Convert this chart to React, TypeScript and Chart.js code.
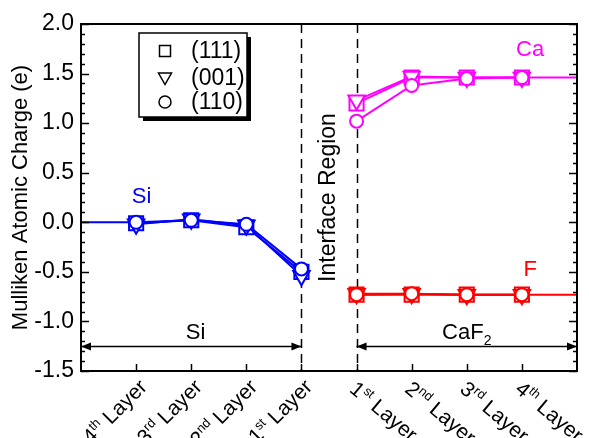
import React, { useEffect, useRef } from 'react';
import { Chart, registerables } from 'chart.js';

Chart.register(...registerables);

// ---------- data ----------
const layerPositions = [1, 2, 3, 4, 5, 6, 7, 8];
const layerNumbers = ['4', '3', '2', '1', '1', '2', '3', '4'];
const layerSuffixes = ['th', 'rd', 'nd', 'st', 'st', 'nd', 'rd', 'th'];
const layerWord = 'Layer';

const siX = [1, 2, 3, 4];
const cafX = [5, 6, 7, 8];
const facetNames = ['(111)', '(001)', '(110)'];

const si111 = [-0.01, 0.02, -0.05, -0.5];
const si001 = [-0.02, 0.03, -0.03, -0.54];
const si110 = [0.0, 0.02, -0.02, -0.47];

const ca111 = [1.2, 1.46, 1.46, 1.46];
const ca001 = [1.23, 1.47, 1.46, 1.46];
const ca110 = [1.02, 1.38, 1.45, 1.46];

const f111 = [-0.73, -0.73, -0.73, -0.73];
const f001 = [-0.72, -0.72, -0.73, -0.73];
const f110 = [-0.73, -0.72, -0.73, -0.73];

const siBulk = 0.0;
const caBulk = 1.46;
const fBulk = -0.73;

const xMin = 0;
const xMax = 9;
const yMin = -1.5;
const yMax = 2.0;
const interfaceBounds = [4, 5];
const regionArrowY = -1.25;
const regionTextY = -1.12;
const regionNames = ['Si', 'CaF'];
const interfaceText = 'Interface Region';
const yTitle = 'Mulliken Atomic Charge (e)';
const elementLabels = [
  { text: 'Si', x: 1.1, y: 0.26, color: '#0000FF' },
  { text: 'Ca', x: 8.15, y: 1.74, color: '#FF00FF' },
  { text: 'F', x: 8.15, y: -0.48, color: '#FF0000' },
];

// ---------- styles ----------
const FONT = "'Liberation Sans', Arial, Helvetica, sans-serif";
const BLUE = '#0000FF';
const MAGENTA = '#FF00FF';
const RED = '#FF0000';
const styles = [
  { pointStyle: 'rect', radius: 10, rotation: 0, order: 3 },
  { pointStyle: 'triangle', radius: 9.5, rotation: 180, order: 2 },
  { pointStyle: 'circle', radius: 6.5, rotation: 0, order: 1 },
];

function series(xs: number[], ys: number[]) {
  return xs.map((x, i) => ({ x, y: ys[i] }));
}

function makeSets(color: string, xs: number[], groups: number[][]) {
  return groups.map((ys, k) => ({
    label: facetNames[k],
    data: series(xs, ys),
    showLine: true,
    borderColor: color,
    borderWidth: 2,
    pointStyle: styles[k].pointStyle,
    pointRadius: styles[k].radius,
    pointRotation: styles[k].rotation,
    pointBorderColor: color,
    pointBackgroundColor: '#FFFFFF',
    pointBorderWidth: 2,
    order: styles[k].order,
  }));
}

function bulkSet(color: string, xs: number[], v: number) {
  return {
    label: 'bulk',
    data: xs.map((x) => ({ x, y: v })),
    showLine: true,
    borderColor: color,
    borderWidth: 2,
    pointRadius: 0,
    order: 5,
  };
}

function drawMarker(ctx: CanvasRenderingContext2D, k: number, cx: number, cy: number) {
  ctx.beginPath();
  if (k === 0) {
    ctx.rect(cx - 5.5, cy - 5.5, 11, 11);
  } else if (k === 1) {
    ctx.moveTo(cx - 6.5, cy - 5);
    ctx.lineTo(cx + 6.5, cy - 5);
    ctx.lineTo(cx, cy + 6.5);
    ctx.closePath();
  } else {
    ctx.arc(cx, cy, 6, 0, Math.PI * 2);
  }
  ctx.stroke();
}

function drawLayerLabel(
  ctx: CanvasRenderingContext2D,
  num: string,
  sup: string,
  align: 'left' | 'right'
) {
  const main = `21px ${FONT}`;
  const small = `13px ${FONT}`;
  ctx.font = main;
  const wNum = ctx.measureText(num).width;
  const word = ' ' + layerWord;
  const wWord = ctx.measureText(word).width;
  ctx.font = small;
  const wSup = ctx.measureText(sup).width;
  const total = wNum + wSup + wWord;
  let x = align === 'right' ? -total : 0;
  ctx.textAlign = 'left';
  ctx.textBaseline = 'alphabetic';
  ctx.font = main;
  ctx.fillText(num, x, 0);
  x += wNum;
  ctx.font = small;
  ctx.fillText(sup, x, -8);
  x += wSup;
  ctx.font = main;
  ctx.fillText(word, x, 0);
}

function drawArrow(ctx: CanvasRenderingContext2D, x1: number, x2: number, y: number) {
  ctx.beginPath();
  ctx.moveTo(x1, y);
  ctx.lineTo(x2, y);
  ctx.stroke();
  const L = 10;
  const H = 4;
  ctx.beginPath();
  ctx.moveTo(x1, y);
  ctx.lineTo(x1 + L, y - H);
  ctx.lineTo(x1 + L, y + H);
  ctx.closePath();
  ctx.fill();
  ctx.beginPath();
  ctx.moveTo(x2, y);
  ctx.lineTo(x2 - L, y - H);
  ctx.lineTo(x2 - L, y + H);
  ctx.closePath();
  ctx.fill();
}

const overlay = {
  id: 'overlay',
  beforeDatasetsDraw(chart: any) {
    const { ctx, chartArea: ca, scales } = chart;
    const x = scales.x;
    const y = scales.y;
    ctx.save();
    ctx.strokeStyle = '#000';
    ctx.fillStyle = '#000';
    ctx.lineWidth = 1.5;
    ctx.setLineDash([9, 6]);
    interfaceBounds.forEach((v) => {
      const px = Math.round(x.getPixelForValue(v)) + 0.5;
      ctx.beginPath();
      ctx.moveTo(px, ca.top);
      ctx.lineTo(px, ca.bottom);
      ctx.stroke();
    });
    ctx.setLineDash([]);
    const ay = Math.round(y.getPixelForValue(regionArrowY)) + 0.5;
    drawArrow(ctx, x.getPixelForValue(xMin), x.getPixelForValue(interfaceBounds[0]), ay);
    drawArrow(ctx, x.getPixelForValue(interfaceBounds[1]), x.getPixelForValue(xMax), ay);
    ctx.restore();
  },
  afterDatasetsDraw(chart: any) {
    const { ctx, chartArea: ca, scales } = chart;
    const x = scales.x;
    const y = scales.y;
    ctx.save();
    // frame
    ctx.strokeStyle = '#000';
    ctx.lineWidth = 2;
    ctx.strokeRect(ca.left, ca.top, ca.right - ca.left, ca.bottom - ca.top);
    // y ticks (inward), left and right
    ctx.lineWidth = 1.5;
    for (let i = 0; i <= 35; i++) {
      const v = yMin + i * 0.1;
      const py = Math.round(y.getPixelForValue(v)) + 0.5;
      const len = i % 5 === 0 ? 8 : 4;
      ctx.beginPath();
      ctx.moveTo(ca.left, py);
      ctx.lineTo(ca.left + len, py);
      ctx.moveTo(ca.right, py);
      ctx.lineTo(ca.right - len, py);
      ctx.stroke();
    }
    // x ticks (inward)
    layerPositions.forEach((v) => {
      const px = Math.round(x.getPixelForValue(v)) + 0.5;
      ctx.beginPath();
      ctx.moveTo(px, ca.bottom);
      ctx.lineTo(px, ca.bottom - 7);
      ctx.stroke();
    });
    // x labels
    ctx.fillStyle = '#000';
    layerPositions.forEach((v, i) => {
      const px = x.getPixelForValue(v);
      const left = v <= interfaceBounds[0];
      ctx.save();
      if (left) {
        ctx.translate(px + 12, ca.bottom + 17);
        ctx.rotate(-Math.PI / 4);
        drawLayerLabel(ctx, layerNumbers[i], layerSuffixes[i], 'right');
      } else {
        ctx.translate(px - 8, ca.bottom + 20);
        ctx.rotate((40 * Math.PI) / 180);
        drawLayerLabel(ctx, layerNumbers[i], layerSuffixes[i], 'left');
      }
      ctx.restore();
    });
    // region labels
    const ty = y.getPixelForValue(regionTextY);
    ctx.font = `22px ${FONT}`;
    ctx.textBaseline = 'middle';
    ctx.textAlign = 'center';
    ctx.fillText(regionNames[0], x.getPixelForValue(2.08), ty);
    const wCaF = ctx.measureText(regionNames[1]).width;
    ctx.font = `14px ${FONT}`;
    const w2 = ctx.measureText('2').width;
    const cx2 = x.getPixelForValue((interfaceBounds[1] + xMax) / 2);
    const start = cx2 - (wCaF + w2) / 2;
    ctx.textAlign = 'left';
    ctx.font = `22px ${FONT}`;
    ctx.fillText(regionNames[1], start, ty);
    ctx.font = `14px ${FONT}`;
    ctx.fillText('2', start + wCaF, ty + 8);
    // interface text
    ctx.save();
    ctx.translate(x.getPixelForValue((interfaceBounds[0] + interfaceBounds[1]) / 2), y.getPixelForValue(0.25));
    ctx.rotate(-Math.PI / 2);
    ctx.font = `23px ${FONT}`;
    ctx.textAlign = 'center';
    ctx.textBaseline = 'middle';
    ctx.fillText(interfaceText, 0, 0);
    ctx.restore();
    // element labels
    ctx.font = `22px ${FONT}`;
    ctx.textAlign = 'center';
    ctx.textBaseline = 'middle';
    elementLabels.forEach((l) => {
      ctx.fillStyle = l.color;
      ctx.fillText(l.text, x.getPixelForValue(l.x), y.getPixelForValue(l.y));
    });
    // legend
    const bx = 139;
    const by = 33;
    const bw = 108;
    const bh = 84;
    ctx.fillStyle = '#000';
    ctx.fillRect(bx + 4, by + 4, bw, bh);
    ctx.fillStyle = '#FFF';
    ctx.fillRect(bx, by, bw, bh);
    ctx.strokeStyle = '#000';
    ctx.lineWidth = 1.5;
    ctx.strokeRect(bx, by, bw, bh);
    const rows = [51, 78, 102];
    ctx.font = `23px ${FONT}`;
    ctx.textAlign = 'left';
    ctx.textBaseline = 'middle';
    facetNames.forEach((name, k) => {
      ctx.strokeStyle = '#000';
      ctx.lineWidth = 1.5;
      drawMarker(ctx, k, 165, rows[k]);
      ctx.fillStyle = '#000';
      ctx.fillText(name, 191, rows[k] + 1);
    });
    ctx.restore();
  },
};

export default function App() {
  const ref = useRef<HTMLCanvasElement | null>(null);
  useEffect(() => {
    document.body.style.margin = '0';
    const canvas = ref.current;
    if (!canvas) return;
    const datasets: any[] = [
      ...makeSets(BLUE, siX, [si111, si001, si110]),
      ...makeSets(MAGENTA, cafX, [ca111, ca001, ca110]),
      ...makeSets(RED, cafX, [f111, f001, f110]),
      bulkSet(BLUE, [xMin, siX[0]], siBulk),
      bulkSet(MAGENTA, [cafX[cafX.length - 1], xMax], caBulk),
      bulkSet(RED, [cafX[cafX.length - 1], xMax], fBulk),
    ];
    const chart = new Chart(canvas, {
      type: 'scatter',
      data: { datasets },
      options: {
        animation: false,
        responsive: false,
        maintainAspectRatio: false,
        layout: { padding: { left: 0, top: 24, right: 2, bottom: 0 } },
        scales: {
          x: {
            type: 'linear',
            min: xMin,
            max: xMax,
            afterFit: (s: any) => {
              s.height = 67;
            },
            ticks: { display: false },
            grid: { display: false, drawTicks: false },
            border: { display: false },
          },
          y: {
            type: 'linear',
            min: yMin,
            max: yMax,
            afterFit: (s: any) => {
              s.width = 81;
            },
            ticks: {
              stepSize: 0.5,
              color: '#000',
              padding: 7,
              font: { family: FONT, size: 23 },
              callback: (v: any) => Number(v).toFixed(1),
            },
            grid: { display: false, drawTicks: false },
            border: { display: false },
            title: {
              display: true,
              text: yTitle,
              color: '#000',
              font: { family: FONT, size: 22 },
              padding: { top: 8, bottom: 0 },
            },
          },
        },
        plugins: {
          legend: { display: false },
          tooltip: { enabled: false },
        },
      },
      plugins: [overlay],
    } as any);
    return () => chart.destroy();
  }, []);
  return (
    <div style={{ position: 'absolute', left: 0, top: 0, width: 589, height: 438 }}>
      <canvas ref={ref} width={589} height={438} style={{ width: 589, height: 438 }} />
    </div>
  );
}
